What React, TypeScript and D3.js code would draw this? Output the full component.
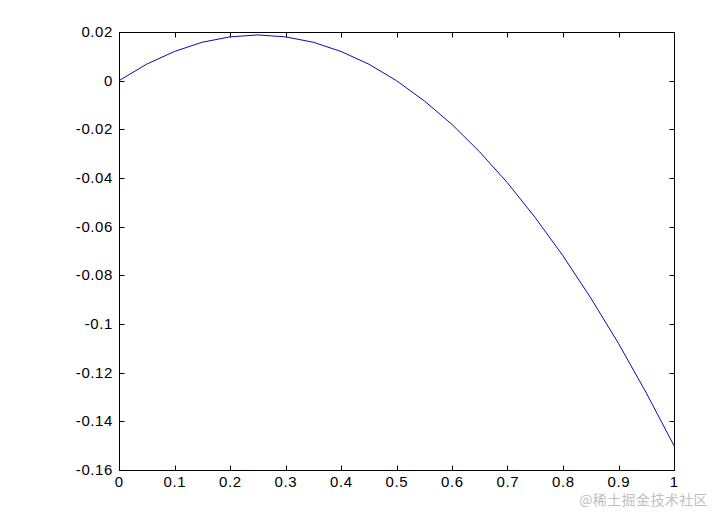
import React, { useEffect, useRef } from "react";
import * as d3 from "d3";

const xValues = [0, 0.05, 0.1, 0.15, 0.2, 0.25, 0.3, 0.35, 0.4, 0.45, 0.5, 0.55, 0.6, 0.65, 0.7, 0.75, 0.8, 0.85, 0.9, 0.95, 1];
const yValues = [0, 0.0068, 0.012, 0.0158, 0.018, 0.0188, 0.018, 0.0158, 0.012, 0.0068, 0, -0.0083, -0.018, -0.0293, -0.042, -0.0563, -0.072, -0.0893, -0.108, -0.1283, -0.15];
const xTicks = [0, 0.1, 0.2, 0.3, 0.4, 0.5, 0.6, 0.7, 0.8, 0.9, 1];
const yTicks = [0.02, 0, -0.02, -0.04, -0.06, -0.08, -0.1, -0.12, -0.14, -0.16];
const watermark = "@稀土掘金技术社区";

const W = 713;
const H = 513;
const M = { left: 119, right: 674, top: 32, bottom: 470 };

export default function App() {
  const ref = useRef<SVGSVGElement>(null);

  useEffect(() => {
    const svg = d3.select(ref.current);
    svg.selectAll("*").remove();
    const x = d3.scaleLinear().domain([0, 1]).range([M.left, M.right]);
    const y = d3.scaleLinear().domain([-0.16, 0.02]).range([M.bottom, M.top]);
    const font = "Arial, 'Liberation Sans', sans-serif";
    const fs = 15;
    const ls = 0.6;
    const tl = 5;

    svg.append("rect").attr("width", W).attr("height", H).attr("fill", "#fff");

    svg.append("rect")
      .attr("x", M.left + 0.5).attr("y", M.top + 0.5)
      .attr("width", M.right - M.left).attr("height", M.bottom - M.top)
      .attr("fill", "none").attr("stroke", "#000").attr("stroke-width", 1);

    const gx = svg.append("g");
    xTicks.forEach((t) => {
      const px = Math.round(x(t)) + 0.5;
      gx.append("line").attr("x1", px).attr("x2", px).attr("y1", M.bottom + 0.5).attr("y2", M.bottom + 0.5 - tl).attr("stroke", "#000");
      gx.append("line").attr("x1", px).attr("x2", px).attr("y1", M.top + 0.5).attr("y2", M.top + 0.5 + tl).attr("stroke", "#000");
      gx.append("text").attr("x", x(t) + ls / 2).attr("y", M.bottom + 17)
        .attr("text-anchor", "middle").attr("font-family", font).attr("font-size", fs)
        .attr("letter-spacing", ls)
        .text(String(t));
    });

    const gy = svg.append("g");
    yTicks.forEach((t) => {
      const py = Math.round(y(t)) + 0.5;
      gy.append("line").attr("x1", M.left + 0.5).attr("x2", M.left + 0.5 + tl).attr("y1", py).attr("y2", py).attr("stroke", "#000");
      gy.append("line").attr("x1", M.right + 0.5).attr("x2", M.right + 0.5 - tl).attr("y1", py).attr("y2", py).attr("stroke", "#000");
      gy.append("text").attr("x", M.left - 6).attr("y", y(t) + 5)
        .attr("text-anchor", "end").attr("font-family", font).attr("font-size", fs)
        .attr("letter-spacing", ls)
        .text(t === 0 ? "0" : String(t));
    });

    const line = d3.line<number>()
      .x((_, i) => x(xValues[i]))
      .y((d) => y(d));
    svg.append("path").datum(yValues).attr("d", line)
      .attr("fill", "none").attr("stroke", "#0a0ab4").attr("stroke-width", 1);

    svg.append("text").attr("x", 708).attr("y", 505).attr("text-anchor", "end")
      .attr("font-family", "'Noto Sans CJK SC', sans-serif").attr("font-size", 14)
      .attr("letter-spacing", 0.4)
      .attr("fill", "#c0c0c0").text(watermark);
  }, []);

  return (
    <svg ref={ref} width={W} height={H} style={{ position: "absolute", left: 0, top: 0 }} />
  );
}
